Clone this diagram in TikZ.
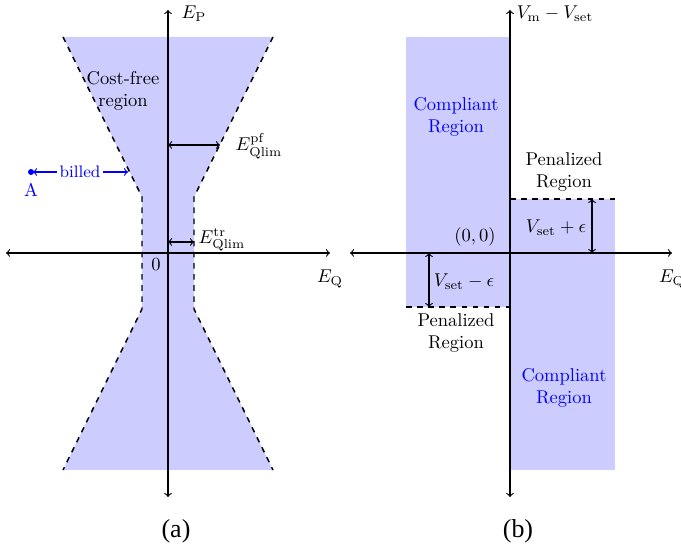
\documentclass[tikz,border=0pt]{standalone}
\usepackage{fontspec}
\newfontfamily\capfont{Liberation Serif}
\begin{document}
\begin{tikzpicture}[x=0.54pt,y=-0.54pt,
  axis/.style={semithick,<->},
  bound/.style={thick,dashed},
  dim/.style={semithick,<->},
  region/.style={fill=blue!20},
  lbl/.style={inner sep=1pt},
  blu/.style={text=blue},
  captext/.style={inner sep=0pt,font=\capfont\fontsize{14}{16}\selectfont}]
\useasboundingbox (0,0) rectangle (681,546);
% ---------- (a) ----------
\fill[region] (63,37) -- (273,37) -- (194,197) -- (194,309) -- (273,470) -- (63,470) -- (142,309) -- (142,197) -- cycle;
\draw[bound] (63,37) -- (142,197) -- (142,309) -- (63,470);
\draw[bound] (273,37) -- (194,197) -- (194,309) -- (273,470);
\coordinate (aL) at (6,253);
\coordinate (aR) at (330,253);
\coordinate (aT) at (168,10);
\coordinate (aB) at (168,497);
\draw[axis] (aL) -- (aR);
\draw[axis] (aT) -- (aB);
\node[lbl] (ep) at (194,14) {$E_{\mathrm{P}}$};
\node[lbl] (eq) at (330,279) {$E_{\mathrm{Q}}$};
\node[lbl] (zero) at (156,265) {$0$};
\node[lbl,align=center] (cf) at (123,91) {Cost-free\\region};
\coordinate (pf0) at (168,145);
\coordinate (pf1) at (220,145);
\draw[dim] (pf0) -- (pf1);
\node[lbl] (pfl) at (259,146) {$E^{\mathrm{pf}}_{\mathrm{Qlim}}$};
\coordinate (tr0) at (168,242);
\coordinate (tr1) at (194,242);
\draw[dim] (tr0) -- (tr1);
\node[lbl] (trl) at (222,240) {$E^{\mathrm{tr}}_{\mathrm{Qlim}}$};
\fill[blue] (31,172) circle (3);
\coordinate (Apt) at (33,172);
\node[lbl,blu] (A) at (31,190) {A};
\node[lbl,blu,font=\small] (billed) at (80,172) {billed};
\coordinate (bnd) at (128,172);
\draw[blue,semithick,->] (billed.west) -- (Apt);
\draw[blue,semithick,->] (billed.east) -- (bnd);
\node[captext] (capa) at (176,531) {(a)};
% ---------- (b) ----------
\fill[region] (406,37) rectangle (510,307);
\fill[region] (510,199) rectangle (615,470);
\draw[bound] (510,199) -- (615,199);
\draw[bound] (406,307) -- (510,307);
\coordinate (bL) at (350,253);
\coordinate (bR) at (672,253);
\coordinate (bT) at (510,10);
\coordinate (bB) at (510,497);
\draw[axis] (bL) -- (bR);
\draw[axis] (bT) -- (bB);
\node[lbl] (vm) at (555,14) {$V_{\mathrm{m}}-V_{\mathrm{set}}$};
\node[lbl] (eq2) at (672,279) {$E_{\mathrm{Q}}$};
\node[lbl] (orig) at (475,237) {$(0,0)$};
\coordinate (up0) at (592,199);
\coordinate (up1) at (592,253);
\draw[dim] (up0) -- (up1);
\node[lbl] (vp) at (556,228) {$V_{\mathrm{set}}+\epsilon$};
\coordinate (lo0) at (429,253);
\coordinate (lo1) at (429,307);
\draw[dim] (lo0) -- (lo1);
\node[lbl] (vmn) at (464,282) {$V_{\mathrm{set}}-\epsilon$};
\node[lbl,align=center] (pen1) at (564,172) {Penalized\\Region};
\node[lbl,align=center] (pen2) at (456,333) {Penalized\\Region};
\node[lbl,align=center,blu] (com1) at (456,117) {Compliant\\Region};
\node[lbl,align=center,blu] (com2) at (564,388) {Compliant\\Region};
\node[captext] (capb) at (518,531) {(b)};
\end{tikzpicture}
\end{document}
